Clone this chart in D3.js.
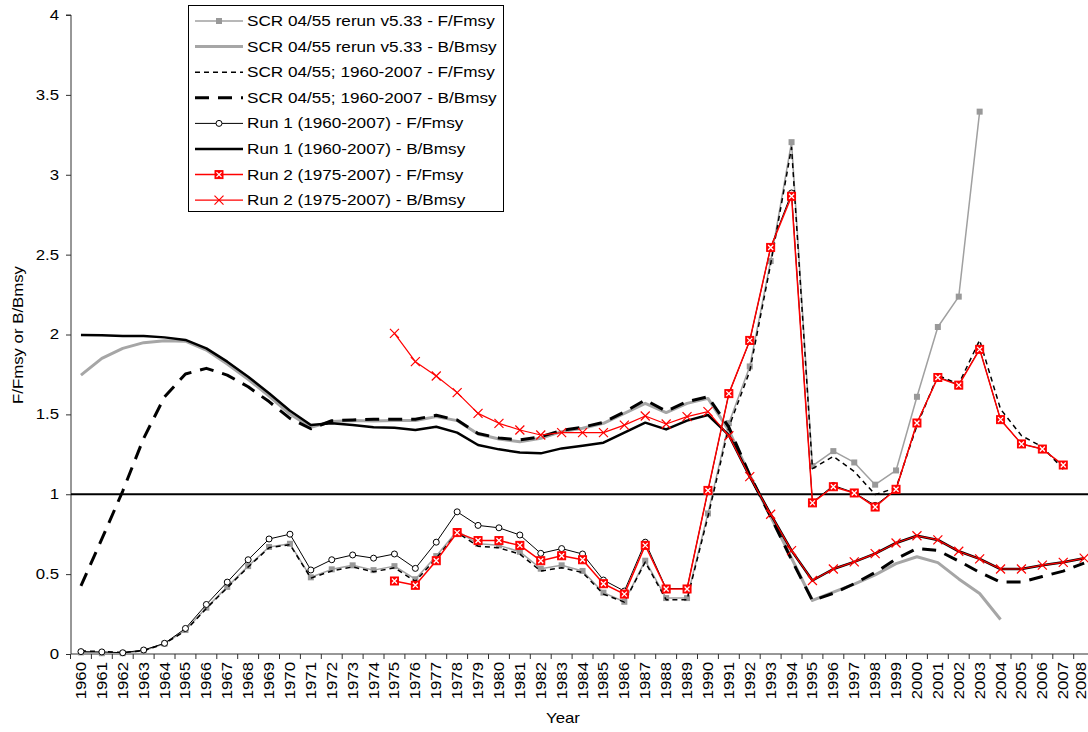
<!DOCTYPE html>
<html>
<head>
<meta charset="utf-8">
<script src="https://d3js.org/d3.v7.min.js"></script>
<style>
  body { margin: 0; background: #fff; }
  text { font-family: "Liberation Sans", Arial, sans-serif; fill: #000; }
</style>
</head>
<body>
<div id="chart"></div>
<script>
// ---- data ----
const years = d3.range(1960, 2009);   // 1960 .. 2008
const yTicks = [0, 0.5, 1, 1.5, 2, 2.5, 3, 3.5, 4];

// SCR 04/55 rerun v5.33, 1960-2003 / 1960-2004
const rerunF = [0.01, 0.005, 0.005, 0.02, 0.065, 0.15, 0.29, 0.42, 0.55, 0.67,
  0.69, 0.48, 0.53, 0.555, 0.525, 0.55, 0.468, 0.613, 0.77, 0.69,
  0.68, 0.64, 0.534, 0.555, 0.52, 0.384, 0.327, 0.584, 0.35, 0.35,
  0.88, 1.445, 1.80, 2.46, 3.204, 1.177, 1.27, 1.199, 1.06, 1.149,
  1.61, 2.047, 2.237, 3.395];
const rerunB = [1.746, 1.851, 1.913, 1.949, 1.961, 1.958, 1.903, 1.815, 1.72, 1.615,
  1.502, 1.419, 1.455, 1.461, 1.459, 1.462, 1.462, 1.486, 1.461, 1.377,
  1.346, 1.329, 1.35, 1.392, 1.413, 1.444, 1.506, 1.569, 1.511, 1.569,
  1.60, 1.40, 1.12, 0.86, 0.60, 0.335, 0.388, 0.438, 0.495, 0.566,
  0.609, 0.572, 0.47, 0.379, 0.216];

// SCR 04/55; 1960-2007
const scrF = [0.02, 0.015, 0.01, 0.02, 0.065, 0.145, 0.285, 0.415, 0.545, 0.665,
  0.685, 0.475, 0.52, 0.545, 0.515, 0.54, 0.455, 0.60, 0.76, 0.675,
  0.665, 0.625, 0.52, 0.54, 0.51, 0.375, 0.325, 0.575, 0.34, 0.34,
  0.86, 1.42, 1.77, 2.44, 3.17, 1.16, 1.237, 1.143, 0.998, 1.04,
  1.43, 1.744, 1.69, 1.965, 1.533, 1.367, 1.296, 1.157];
const scrB = [0.426, 0.72, 1.02, 1.35, 1.61, 1.753, 1.788, 1.746, 1.673, 1.58,
  1.475, 1.41, 1.46, 1.465, 1.469, 1.47, 1.47, 1.494, 1.465, 1.38,
  1.352, 1.34, 1.36, 1.40, 1.42, 1.45, 1.515, 1.59, 1.52, 1.58,
  1.61, 1.42, 1.12, 0.86, 0.59, 0.335, 0.38, 0.44, 0.51, 0.595,
  0.661, 0.648, 0.582, 0.511, 0.45, 0.45, 0.485, 0.519, 0.569];

// Run 1 (1960-2007)
const run1F = [0.015, 0.013, 0.008, 0.025, 0.067, 0.16, 0.31, 0.45, 0.59, 0.72,
  0.75, 0.526, 0.59, 0.62, 0.60, 0.626, 0.536, 0.70, 0.89, 0.805,
  0.79, 0.745, 0.63, 0.66, 0.626, 0.463, 0.394, 0.70, 0.41, 0.41,
  1.02, 1.63, 1.96, 2.545, 2.886, 0.95, 1.055, 1.01, 0.93, 1.03,
  1.445, 1.735, 1.685, 1.91, 1.467, 1.315, 1.283, 1.18];
const run1B = [1.997, 1.995, 1.99, 1.99, 1.982, 1.966, 1.913, 1.83, 1.736, 1.632,
  1.523, 1.433, 1.444, 1.433, 1.419, 1.417, 1.402, 1.423, 1.386, 1.308,
  1.281, 1.262, 1.256, 1.287, 1.304, 1.323, 1.386, 1.448, 1.406, 1.461,
  1.496, 1.37, 1.11, 0.875, 0.647, 0.46, 0.532, 0.577, 0.628, 0.695,
  0.74, 0.714, 0.643, 0.595, 0.532, 0.532, 0.556, 0.574, 0.60];

// Run 2 (1975-2007), starts in 1975
const run2F = [0.457, 0.43, 0.584, 0.76, 0.71,
  0.71, 0.68, 0.584, 0.615, 0.59, 0.44, 0.375, 0.68, 0.407, 0.407,
  1.024, 1.63, 1.963, 2.545, 2.865, 0.946, 1.047, 1.008, 0.92, 1.031,
  1.446, 1.731, 1.683, 1.907, 1.467, 1.315, 1.283, 1.183];
const run2B = [2.007, 1.83, 1.74, 1.636, 1.506,
  1.444, 1.402, 1.371, 1.386, 1.386, 1.386, 1.433, 1.49, 1.44, 1.486,
  1.517, 1.366, 1.11, 0.875, 0.647, 0.46, 0.532, 0.577, 0.628, 0.695,
  0.74, 0.714, 0.643, 0.595, 0.532, 0.532, 0.556, 0.574, 0.60];

const series = [
  { name: "SCR 04/55 rerun v5.33 - F/Fmsy", values: rerunF, start: 1960, color: "#a0a0a0", width: 1.5, dash: null, marker: "graySquare" },
  { name: "SCR 04/55 rerun v5.33 - B/Bmsy", values: rerunB, start: 1960, color: "#a6a6a6", width: 3, dash: null, marker: null },
  { name: "SCR 04/55; 1960-2007 - F/Fmsy", values: scrF, start: 1960, color: "#000", width: 1.5, dash: "5,4", marker: null },
  { name: "SCR 04/55; 1960-2007 - B/Bmsy", values: scrB, start: 1960, color: "#000", width: 3, dash: "14,9", marker: null },
  { name: "Run 1 (1960-2007) - F/Fmsy", values: run1F, start: 1960, color: "#000", width: 1, dash: null, marker: "circle" },
  { name: "Run 1 (1960-2007) - B/Bmsy", values: run1B, start: 1960, color: "#000", width: 2.5, dash: null, marker: null },
  { name: "Run 2 (1975-2007) - F/Fmsy", values: run2F, start: 1975, color: "#ff0000", width: 1.5, dash: null, marker: "redBox" },
  { name: "Run 2 (1975-2007) - B/Bmsy", values: run2B, start: 1975, color: "#ff0000", width: 1.2, dash: null, marker: "cross" }
];

// ---- layout ----
const W = 1088, H = 732;
const plotLeft = 71, plotTop = 15, plotBottom = 654;
const SX = 1.2; // text in the picture is drawn a bit wide

const svg = d3.select("#chart").append("svg")
  .attr("width", W).attr("height", H);

const x = d3.scaleBand().domain(years).range([70.5, 70.5 + 49 * 20.9]);
const cx = yr => x(yr) + x.bandwidth() / 2;
const y = d3.scaleLinear().domain([0, 4]).range([plotBottom, plotTop]);

function wideText(g, str, tx, ty, anchor, rot) {
  const t = g.append("g")
    .attr("transform", `translate(${tx},${ty}) rotate(${rot || 0}) scale(${SX},1)`);
  t.append("text")
    .attr("text-anchor", anchor)
    .attr("dominant-baseline", "central")
    .style("font-size", "14px")
    .text(str);
  return t;
}

// y axis
const yAxis = svg.append("g")
  .attr("transform", `translate(${plotLeft},0)`)
  .call(d3.axisLeft(y).tickValues(yTicks).tickSize(5).tickFormat(""));
yAxis.select(".domain").attr("stroke", "#303030").attr("d", `M-5,${plotTop}H0V${plotBottom}`);
yAxis.selectAll(".tick line").attr("stroke", "#303030");
yTicks.forEach(v => wideText(svg, d3.format("")(v), 59, y(v), "end"));

// x axis: ticks at category boundaries
const xg = svg.append("g");
xg.append("line")
  .attr("x1", plotLeft).attr("x2", W).attr("y1", plotBottom).attr("y2", plotBottom)
  .attr("stroke", "#303030");
xg.selectAll("line.tk").data(years.concat([2009]))
  .join("line").attr("class", "tk")
  .attr("x1", d => d === 2009 ? x(2008) + x.bandwidth() : x(d))
  .attr("x2", d => d === 2009 ? x(2008) + x.bandwidth() : x(d))
  .attr("y1", plotBottom).attr("y2", plotBottom + 5)
  .attr("stroke", "#303030");
years.forEach(yr => wideText(svg, String(yr), Math.min(cx(yr), 1081), 662, "end", -90));

// axis titles
wideText(svg, "Year", 563, 718, "middle");
wideText(svg, "F/Fmsy or B/Bmsy", 18, 335, "middle", -90);

// reference line at 1
svg.append("line")
  .attr("x1", plotLeft).attr("x2", W)
  .attr("y1", y(1)).attr("y2", y(1))
  .attr("stroke", "#000").attr("stroke-width", 2);

// markers
function drawMarker(g, type, px, py) {
  if (type === "graySquare") {
    g.append("rect").attr("x", px - 3).attr("y", py - 3).attr("width", 6).attr("height", 6)
      .attr("fill", "#999");
  } else if (type === "circle") {
    g.append("circle").attr("cx", px).attr("cy", py).attr("r", 3)
      .attr("fill", "#fff").attr("stroke", "#000").attr("stroke-width", 1);
  } else if (type === "redBox") {
    g.append("rect").attr("x", px - 4).attr("y", py - 4).attr("width", 8).attr("height", 8)
      .attr("fill", "#ff0000").attr("stroke", "#ff0000").attr("stroke-width", 1);
    g.append("path").attr("d", `M${px - 2.5},${py - 2.5}L${px + 2.5},${py + 2.5}M${px - 2.5},${py + 2.5}L${px + 2.5},${py - 2.5}`)
      .attr("stroke", "#fff").attr("stroke-width", 1.3);
  } else if (type === "cross") {
    g.append("path").attr("d", `M${px - 4.5},${py - 4.5}L${px + 4.5},${py + 4.5}M${px - 4.5},${py + 4.5}L${px + 4.5},${py - 4.5}`)
      .attr("stroke", "#ff0000").attr("stroke-width", 1.2);
  }
}

const line = d3.line().x(d => cx(d.year)).y(d => y(d.value));

series.forEach(s => {
  const pts = s.values.map((v, i) => ({ year: s.start + i, value: v }));
  const g = svg.append("g");
  g.append("path")
    .datum(pts)
    .attr("fill", "none")
    .attr("stroke", s.color)
    .attr("stroke-width", s.width)
    .attr("stroke-dasharray", s.dash)
    .attr("stroke-linejoin", "round")
    .attr("d", line);
  if (s.marker) pts.forEach(p => drawMarker(g, s.marker, cx(p.year), y(p.value)));
});

// legend
const lg = svg.append("g");
lg.append("rect").attr("x", 188.5).attr("y", 5.5).attr("width", 315).attr("height", 206)
  .attr("fill", "#fff").attr("stroke", "#000").attr("stroke-width", 1);
series.forEach((s, i) => {
  const ly = 21 + i * 25.6;
  lg.append("line").attr("x1", 195).attr("x2", 243).attr("y1", ly).attr("y2", ly)
    .attr("stroke", s.color).attr("stroke-width", s.width)
    .attr("stroke-dasharray", s.dash);
  if (s.marker) drawMarker(lg, s.marker, 219, ly);
  wideText(lg, s.name, 247, ly, "start").select("text").style("font-size", "14.3px");
});
</script>
</body>
</html>
